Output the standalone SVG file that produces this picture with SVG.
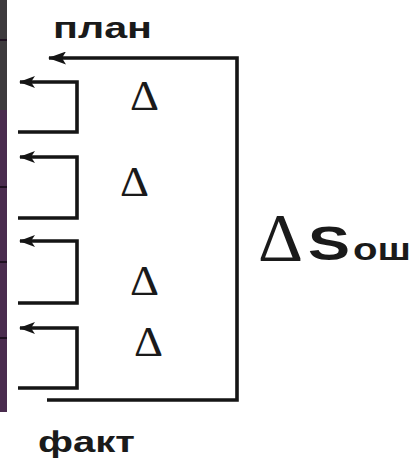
<svg xmlns="http://www.w3.org/2000/svg" width="418" height="461" viewBox="0 0 418 461">
<defs>
<style>
.ln{fill:none;stroke:#151515;stroke-width:3.6;stroke-linejoin:miter}
.d{font-family:"Liberation Serif","Times New Roman",serif;font-size:42px;fill:#1a1a1a}
.lb{font-family:"Liberation Sans",Arial,sans-serif;font-weight:bold;fill:#1a1a1a}
</style>
<marker id="ah" viewBox="0 0 16 12" refX="15" refY="6" markerWidth="16" markerHeight="12" markerUnits="userSpaceOnUse" orient="auto">
<path d="M0,0 L16,6 L0,12 L4,6 Z" fill="#151515"/>
</marker>
<marker id="ahb" viewBox="0 0 18 13" refX="17" refY="6.5" markerWidth="18" markerHeight="13" markerUnits="userSpaceOnUse" orient="auto">
<path d="M0,0 L18,6.5 L0,13 L4,6.5 Z" fill="#151515"/>
</marker>
</defs>
<rect width="418" height="461" fill="#ffffff"/>
<g id="bar">
<rect x="0" y="0" width="7" height="110" fill="#3d3a3d"/>
<rect x="0" y="110" width="7" height="302" fill="#4a2c4e"/>
<g stroke="#1e1020" stroke-width="2">
<line x1="0" y1="40" x2="7" y2="40"/>
<line x1="0" y1="187" x2="7" y2="187"/>
<line x1="0" y1="262" x2="7" y2="262"/>
<line x1="0" y1="338" x2="7" y2="338"/>
</g>
</g>
<g id="connectors">
<path class="ln" d="M47,400 H237 V58 H49" marker-end="url(#ahb)"/>
<path class="ln" d="M18,132 H77 V82 H20" marker-end="url(#ah)"/>
<path class="ln" d="M18,218 H77 V157 H20" marker-end="url(#ah)"/>
<path class="ln" d="M18,303 H77 V241 H20" marker-end="url(#ah)"/>
<path class="ln" d="M18,388 H77 V328 H20" marker-end="url(#ah)"/>
</g>
<g id="plan"><text class="lb" x="53" y="38" font-size="30" textLength="99" lengthAdjust="spacingAndGlyphs">план</text></g>
<g id="fakt"><text class="lb" x="38" y="452" font-size="30" textLength="97" lengthAdjust="spacingAndGlyphs">факт</text></g>
<g id="d1"><text class="d" x="130" y="110" textLength="29" lengthAdjust="spacingAndGlyphs">Δ</text></g>
<g id="d2"><text class="d" x="120" y="196" textLength="29" lengthAdjust="spacingAndGlyphs">Δ</text></g>
<g id="d3"><text class="d" x="130" y="295" textLength="29" lengthAdjust="spacingAndGlyphs">Δ</text></g>
<g id="d4"><text class="d" x="134" y="356" textLength="29" lengthAdjust="spacingAndGlyphs">Δ</text></g>
<g id="ds">
<text x="258" y="260" font-family="Liberation Serif,serif" font-size="68" fill="#1a1a1a" textLength="45" lengthAdjust="spacingAndGlyphs">Δ</text>
<text class="lb" x="308" y="260" font-size="49" textLength="42" lengthAdjust="spacingAndGlyphs">S</text>
<text class="lb" x="353" y="260" font-size="32" textLength="58" lengthAdjust="spacingAndGlyphs">ош</text>
</g>
</svg>
